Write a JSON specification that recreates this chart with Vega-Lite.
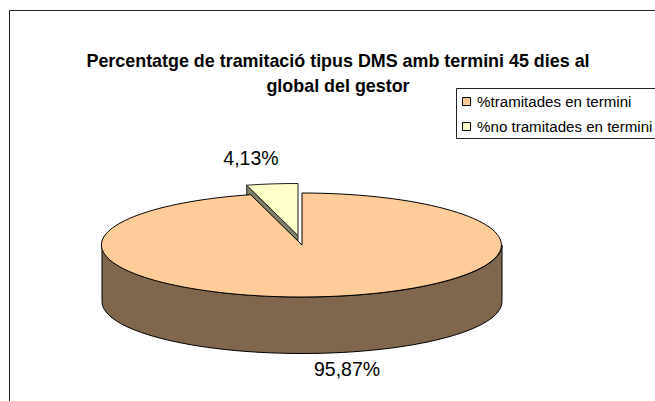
{
  "$schema": "https://vega.github.io/schema/vega-lite/v6.json",
  "width": 646,
  "height": 391,
  "autosize": {"type": "none"},
  "padding": {"left": 9, "top": 10, "right": 0, "bottom": 0},
  "background": "white",
  "view": {"stroke": "#222222", "strokeWidth": 1, "fill": "white"},
  "config": {"font": "Liberation Sans"},
  "title": {
    "text": ["Percentatge de tramitació tipus DMS amb termini 45 dies al", "global del gestor"],
    "font": "Liberation Sans", "fontSize": 17.9, "fontWeight": "bold", "color": "#000000",
    "lineHeight": 25, "anchor": "middle", "frame": "group", "offset": -86, "dx": 6
  },
  "data": {"values": [
    {"categoria": "%tramitades en termini", "valor": 95.87, "etiqueta": "95,87%"},
    {"categoria": "%no tramitades en termini", "valor": 4.13, "etiqueta": "4,13%"}
  ]},
  "layer": [
    {
      "transform": [{"filter": "datum.valor > 50"}],
      "mark": {"type": "point", "filled": true, "opacity": 1, "size": 4, "fill": "#7F664D", "stroke": "#000000", "strokeWidth": 1,
        "shape": "M-230,39.5 A200,52 0 0 0 170,39.5 L170,96 A200,52 0 0 1 -230,96 Z"}
    },
    {
      "transform": [{"filter": "datum.valor < 50"}],
      "mark": {"type": "point", "filled": true, "opacity": 1, "size": 4, "fill": "#808066", "stroke": "#222222", "strokeWidth": 1,
        "shape": "M-85.3,-20.3 L-34,30 L-34,85 L-85.3,35 Z"}
    },
    {
      "transform": [{"filter": "datum.valor < 50"}],
      "mark": {"type": "point", "filled": true, "opacity": 1, "size": 4, "stroke": "#222222", "strokeWidth": 1,
        "shape": "M-34,30 L-34,-22 A200,52 0 0 0 -85.3,-20.3 Z"},
      "encoding": {"fill": {"field": "categoria", "type": "nominal",
        "scale": {"domain": ["%tramitades en termini", "%no tramitades en termini"], "range": ["#FFCC99", "#FFFFCC"]},
        "legend": {"title": " ", "titleFontSize": 1, "titlePadding": 2, "orient": "none", "legendX": 447, "legendY": 78, "strokeColor": "#222222", "fillColor": "white", "padding": 3,
          "symbolType": "square", "symbolSize": 64, "symbolStrokeColor": "#000000", "symbolStrokeWidth": 1, "symbolOffset": 0, "labelFont": "Liberation Sans", "labelFontSize": 15.1, "labelColor": "#000000", "rowPadding": 9, "labelOffset": 3, "labelLimit": 400}}}
    },
    {
      "transform": [{"filter": "datum.valor > 50"}],
      "mark": {"type": "point", "filled": true, "opacity": 1, "size": 4, "stroke": "#000000", "strokeWidth": 1,
        "shape": "M-30,39.5 L-30,-12.5 A200,52 0 1 1 -81.3,-10.8 Z"},
      "encoding": {"fill": {"field": "categoria", "type": "nominal"}}
    },
    {
      "transform": [{"filter": "datum.valor > 50"}],
      "mark": {"type": "text", "font": "Liberation Sans", "fontSize": 19.5, "color": "#000000", "dx": 15, "dy": 164},
      "encoding": {"text": {"field": "etiqueta", "type": "nominal"}}
    },
    {
      "transform": [{"filter": "datum.valor < 50"}],
      "mark": {"type": "text", "font": "Liberation Sans", "fontSize": 19.5, "color": "#000000", "dx": -81, "dy": -47},
      "encoding": {"text": {"field": "etiqueta", "type": "nominal"}}
    }
  ]
}
